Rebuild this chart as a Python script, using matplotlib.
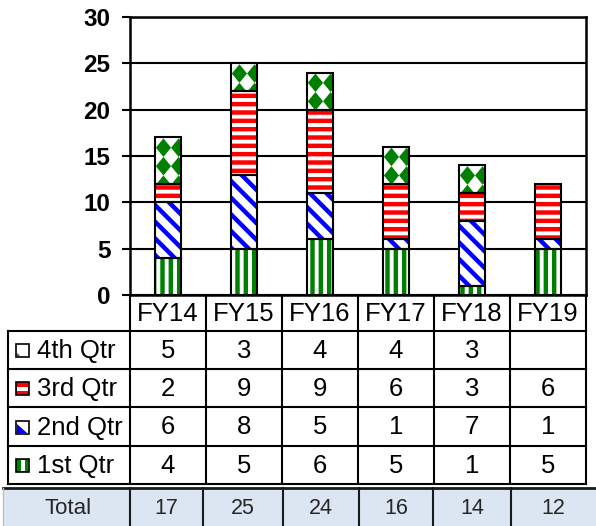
import numpy as np
import matplotlib.pyplot as plt
from matplotlib.patches import Rectangle, Polygon

plt.rcParams["font.family"] = ["Liberation Sans", "DejaVu Sans"]
plt.rcParams["hatch.linewidth"] = 3.2

# DATA
years = ["FY14", "FY15", "FY16", "FY17", "FY18", "FY19"]
q1 = [4, 5, 6, 5, 1, 5]
q2 = [6, 8, 5, 1, 7, 1]
q3 = [2, 9, 9, 6, 3, 6]
q4 = [5, 3, 4, 4, 3, None]
totals = [17, 25, 24, 16, 14, 12]
series_names = ["1st Qtr", "2nd Qtr", "3rd Qtr", "4th Qtr"]
y_ticks = [0, 5, 10, 15, 20, 25, 30]

# LAYOUT (pixels)
W, H = 596, 526
ax_l, ax_r, ax_t, ax_b = 130, 586, 17, 295
row_edges = [331, 369, 407, 446, 484]
tot_top, tot_bot = 488, 526
tot_cols = [3, 130, 203, 283, 359, 433, 511, 596]

GREEN = "#008000"
BLUE = "#0000FF"
RED = "#FF0000"

fig = plt.figure(figsize=(W / 100, H / 100), dpi=100)
ax = fig.add_axes([ax_l / W, 1 - ax_b / H, (ax_r - ax_l) / W, (ax_b - ax_t) / H])

x = np.arange(len(years))
bw = 0.33
series = [q1, q2, q3, q4]
colors = [GREEN, BLUE, RED, GREEN]
hatches = ["||", "\\\\", "--", None]

# rotated checkerboard for the 4th quarter (half diagonals, data units)
ha_, hb_ = 0.1, 1.0

bottom = np.zeros(len(years))
for vals, col, h in zip(series, colors, hatches):
    v = np.array([0 if a is None else a for a in vals], float)
    keep = v > 0
    if h:
        ax.bar(x[keep], v[keep], bw, bottom=bottom[keep], color="white",
               edgecolor=col, hatch=h, linewidth=0, zorder=3)
    else:
        bars = ax.bar(x[keep], v[keep], bw, bottom=bottom[keep], color="white",
                      linewidth=0, zorder=3)
        for b in bars:
            x0, y0 = b.get_x(), b.get_y()
            bwid, bh = b.get_width(), b.get_height()
            xc = x0 + bwid / 2 - 0.06
            top = y0 + bh - 1.1
            for m in range(-3, 4):
                for n in range(-1, int(bh / (2 * hb_)) + 2):
                    cx, cy = xc + 2 * ha_ * m, top - 2 * hb_ * n
                    d = Polygon([(cx - ha_, cy), (cx, cy + hb_), (cx + ha_, cy), (cx, cy - hb_)],
                                closed=True, facecolor=GREEN, edgecolor="none", zorder=4)
                    ax.add_patch(d)
                    d.set_clip_path(b)
    ax.bar(x[keep], v[keep], bw, bottom=bottom[keep], fill=False,
           edgecolor="black", linewidth=1.5, zorder=5)
    bottom += v

ax.set_xlim(-0.5, len(years) - 0.5)
ax.set_ylim(0, 30)
ax.set_yticks(y_ticks)
ax.set_yticklabels([str(t) for t in y_ticks], fontsize=17.5, fontweight="bold")
ax.set_xticks([])
ax.tick_params(axis="y", length=6, width=1.5, pad=8)
ax.grid(axis="y", color="black", linewidth=1.5, zorder=0)
ax.set_axisbelow(True)
for s in ax.spines.values():
    s.set_linewidth(1.8)

# TABLE (drawn in pixel coordinates on an overlay axes)
tab = fig.add_axes([0, 0, 1, 1], zorder=-1)
tab.set_xlim(0, W)
tab.set_ylim(H, 0)
tab.axis("off")

cw = (ax_r - ax_l) / len(years)
lw = 1.5
col_x = [ax_l + i * cw for i in range(len(years) + 1)]

for cx in col_x:
    tab.plot([cx, cx], [ax_b, row_edges[-1]], color="black", lw=lw)
for ry in row_edges:
    tab.plot([8, ax_r], [ry, ry], color="black", lw=lw)
tab.plot([8, 8], [row_edges[0], row_edges[-1]], color="black", lw=lw)

for i, yr in enumerate(years):
    tab.text(ax_l + (i + 0.5) * cw, (ax_b + row_edges[0]) / 2 + 1, yr,
             ha="center", va="center", fontsize=18.5)

rows = list(zip(series_names, series))[::-1]
for r, (name, vals) in enumerate(rows):
    cy = (row_edges[r] + row_edges[r + 1]) / 2 + 1
    tab.text(37, cy, name, ha="left", va="center", fontsize=18.5)
    for i, v in enumerate(vals):
        if v is not None:
            tab.text(ax_l + (i + 0.5) * cw, cy, str(v), ha="center", va="center", fontsize=18.5)

    # legend key
    kx, ky, ks = 16, cy - 7, 13
    if name == "4th Qtr":
        tab.add_patch(Rectangle((kx, ky), ks, ks, facecolor="white", edgecolor="black", lw=1.2))
        tab.add_patch(Polygon([(kx + 1, ky + ks - 4), (kx + 1, ky + ks - 1), (kx + 4, ky + ks - 1)],
                              facecolor=GREEN, edgecolor="none"))
    elif name == "3rd Qtr":
        tab.add_patch(Rectangle((kx, ky), ks, ks, facecolor=RED, edgecolor="black", lw=1.2))
        tab.add_patch(Rectangle((kx + 1, ky + 5), ks - 2, 3.5, facecolor="white", edgecolor="none"))
    elif name == "2nd Qtr":
        tab.add_patch(Rectangle((kx, ky), ks, ks, facecolor="white", edgecolor="black", lw=1.2))
        tab.add_patch(Polygon([(kx + 1, ky + 3), (kx + 1, ky + ks - 1), (kx + ks - 2, ky + ks - 1)],
                              facecolor=BLUE, edgecolor="none"))
    else:
        tab.add_patch(Rectangle((kx, ky), ks, ks, facecolor=GREEN, edgecolor="black", lw=1.2))
        tab.add_patch(Rectangle((kx + 4.5, ky + 1), 4, ks - 2, facecolor="white", edgecolor="none"))

# total row
tab.add_patch(Rectangle((tot_cols[0], tot_top), tot_cols[-1] - tot_cols[0], tot_bot - tot_top,
                        facecolor="#DCE6F2", edgecolor="none"))
tab.plot([tot_cols[0], tot_cols[-1]], [tot_top, tot_top], color="#1a1a1a", lw=2)
tab.plot([tot_cols[0], tot_cols[0]], [tot_top, tot_bot], color="#bfbfbf", lw=1)
for cx in tot_cols[1:-1]:
    tab.plot([cx, cx], [tot_top, tot_bot], color="#1a1a1a", lw=1.5)
ty = (tot_top + tot_bot) / 2 + 1
tab.text((tot_cols[0] + tot_cols[1]) / 2 + 2, ty, "Total", ha="center", va="center",
         fontsize=16, color="#262626")
for i, t in enumerate(totals):
    tab.text((tot_cols[i + 1] + tot_cols[i + 2]) / 2, ty, str(t), ha="center", va="center",
             fontsize=15.5, color="#262626")

fig.savefig("out.png", dpi=100)
